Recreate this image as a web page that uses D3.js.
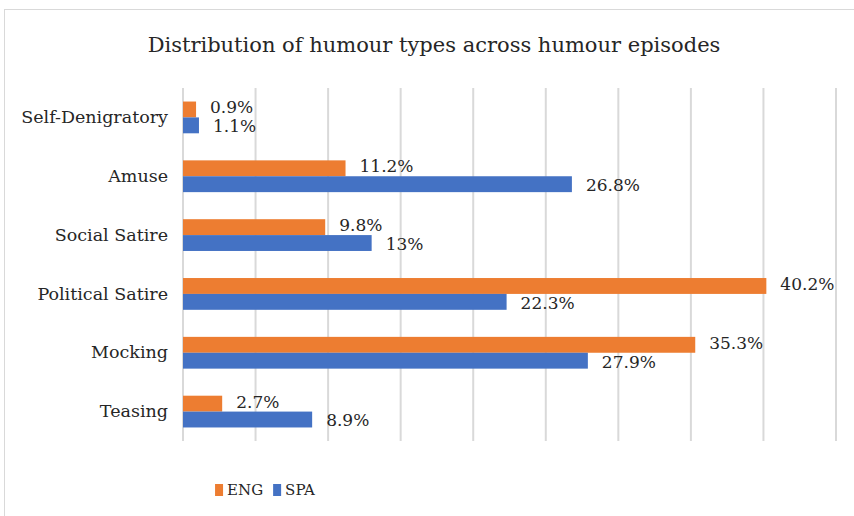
<!DOCTYPE html>
<html lang="en">
<head>
  <meta charset="UTF-8">
  <title>humour types</title>
  <script src="https://cdn.jsdelivr.net/npm/d3@7"></script>
  <style>
    body { margin: 0; background: #fff; }
    svg text { font-family: 'DejaVu Serif', serif !important; fill: #262626; }
  </style>
</head>
<body>
<svg></svg>
<script>
  const width = 854, height = 516
  const margin = {top: 88, right: 18, bottom: 75, left: 183}

  const categories = ['Self-Denigratory', 'Amuse', 'Social Satire', 'Political Satire', 'Mocking', 'Teasing']
  const eng = [0.9, 11.2, 9.8, 40.2, 35.3, 2.7]
  const spa = [1.1, 26.8, 13, 22.3, 27.9, 8.9]
  const seriesNames = ['ENG', 'SPA']
  const colors = ['#ED7D31', '#4472C4']
  const xTicks = [0, 5, 10, 15, 20, 25, 30, 35, 40, 45]

  const svg = d3.select('svg')
      .attr('width', width)
      .attr('height', height)

  // chart frame
  svg.append('rect')
      .attr('x', 4.5).attr('y', 9.5)
      .attr('width', 860).attr('height', 520)
      .attr('fill', '#fff')
      .attr('stroke', '#d9d9d9')

  const x = d3.scaleLinear()
      .domain([0, 45])
      .range([margin.left, 836])

  const y = d3.scaleBand()
      .domain(categories)
      .range([margin.top, 441])
      .paddingInner(0.46)
      .paddingOuter(0.23)

  const sub = d3.scaleBand()
      .domain(seriesNames)
      .range([0, y.bandwidth()])

  // gridlines
  svg.append('g')
      .selectAll('line')
      .data(xTicks)
      .join('line')
      .attr('x1', d => x(d)).attr('x2', d => x(d))
      .attr('y1', margin.top).attr('y2', 441)
      .attr('stroke', '#d9d9d9')
      .attr('stroke-width', 2)

  // category labels
  svg.append('g')
      .attr('transform', `translate(${margin.left - 15},0)`)
      .call(d3.axisLeft(y).tickSize(0).tickPadding(0))
      .call(g => g.select('.domain').remove())
      .selectAll('text')
      .attr('font-size', 17.5)

  const rows = categories.map((c, i) => ({cat: c, vals: [eng[i], spa[i]]}))

  const groups = svg.append('g')
      .selectAll('g')
      .data(rows)
      .join('g')
      .attr('transform', d => `translate(0,${y(d.cat)})`)

  groups.selectAll('rect')
      .data(d => d.vals.map((v, j) => ({s: seriesNames[j], v, j})))
      .join('rect')
      .attr('x', x(0))
      .attr('y', d => sub(d.s))
      .attr('width', d => x(d.v) - x(0))
      .attr('height', sub.bandwidth())
      .attr('fill', d => colors[d.j])

  groups.selectAll('text')
      .data(d => d.vals.map((v, j) => ({s: seriesNames[j], v, j})))
      .join('text')
      .attr('x', d => x(d.v) + 14)
      .attr('y', d => sub(d.s) + sub.bandwidth() / 2 + (d.j === 0 ? -2 : 1))
      .attr('dy', '0.35em')
      .attr('font-size', 17)
      .text(d => d.v + '%')

  // title
  svg.append('text')
      .attr('x', 434).attr('y', 52)
      .attr('text-anchor', 'middle')
      .attr('font-size', 21)
      .text('Distribution of humour types across humour episodes')

  // legend, centred under the plot
  const legend = svg.append('g')
      .attr('transform', 'translate(0,484)')

  let lx = 0
  seriesNames.forEach((name, i) => {
    const item = legend.append('g').attr('transform', `translate(${lx},0)`)
    item.append('rect')
        .attr('width', 8).attr('height', 12)
        .attr('fill', colors[i])
    const t = item.append('text')
        .attr('x', 12).attr('y', 6)
        .attr('dy', '0.35em')
        .attr('font-size', 15)
        .text(name)
    lx += 12 + t.node().getComputedTextLength() + 10
  })
  const legendWidth = lx - 10
  legend.attr('transform', `translate(${265 - legendWidth / 2},484)`)
</script>
</body>
</html>
